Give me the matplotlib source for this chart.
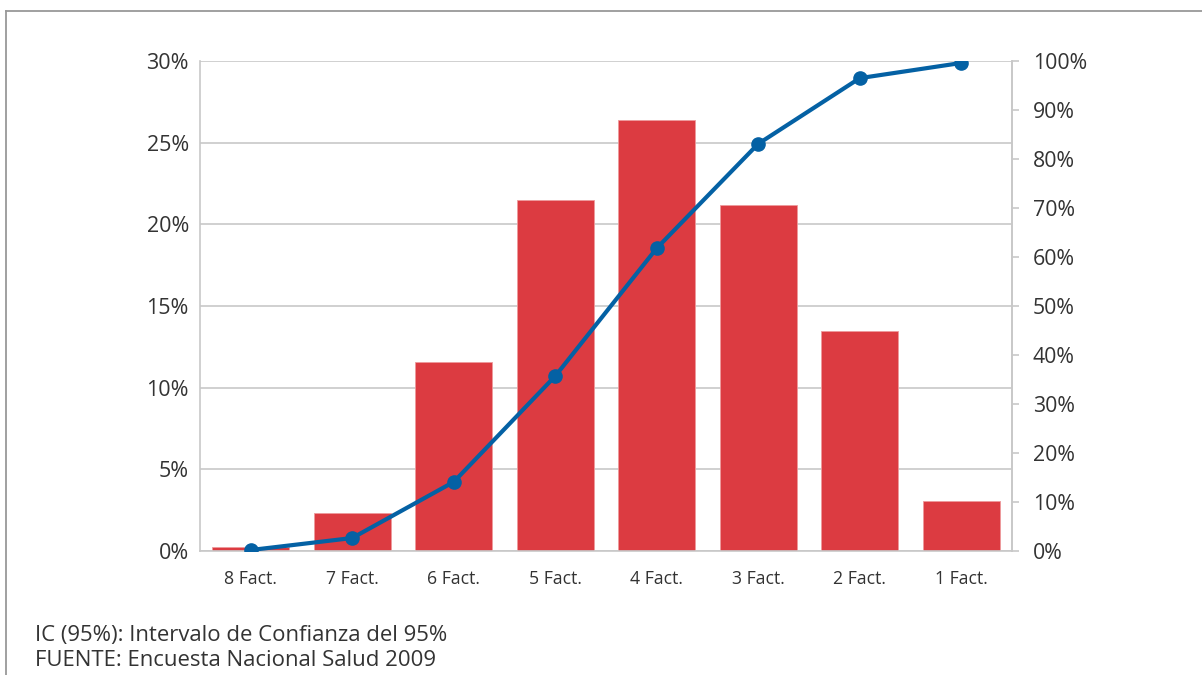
import matplotlib.pyplot as plt
from matplotlib.lines import Line2D
from matplotlib.ticker import FuncFormatter

plt.rcParams['font.family'] = ['Open Sans', 'DejaVu Sans']

categories = ['8 Fact.', '7 Fact.', '6 Fact.', '5 Fact.', '4 Fact.', '3 Fact.', '2 Fact.', '1 Fact.']
share = [0.25, 2.33, 11.57, 21.5, 26.4, 21.2, 13.47, 3.06]          # % (left axis)
cumulative = [0.2, 2.65, 14.1, 35.7, 61.8, 83.1, 96.5, 99.6]        # % (right axis)
notes = ['IC (95%): Intervalo de Confianza del 95%',
         'FUENTE: Encuesta Nacional Salud 2009']

red = '#DC3B41'
blue = '#0461A4'
grid = '#C8C8C8'
text = '#333333'

fig = plt.figure(figsize=(12.02, 6.75), dpi=100)
ax = fig.add_axes([200 / 1202, 1 - 551 / 675, 812 / 1202, 490 / 675])

x = range(len(categories))
ax.bar(x, share, width=0.76, color=red, edgecolor='#EE9A9C', linewidth=0.6, zorder=2)
ax.set_xlim(-0.5, len(categories) - 0.5)
ax.set_ylim(0, 30)
ax.set_yticks(range(0, 31, 5))
ax.yaxis.set_major_formatter(FuncFormatter(lambda v, p: f'{v:.0f}%'))
ax.grid(axis='y', color=grid, linewidth=1.2, zorder=0)
ax.set_xticks(list(x))
ax.set_xticklabels(categories, fontsize=12.7, color=text)
ax.tick_params(axis='y', length=0, pad=8, labelsize=15.5, labelcolor=text)
ax.tick_params(axis='x', length=0, pad=14)
ax.spines['top'].set_visible(False)
for s in ['left', 'bottom', 'right']:
    ax.spines[s].set_color(grid)
    ax.spines[s].set_linewidth(1.2)

ax2 = ax.twinx()
ax2.plot(x, cumulative, color=blue, linewidth=3, marker='o', markersize=9.5, zorder=3)
ax2.set_ylim(0, 100)
ax2.set_yticks(range(0, 101, 10))
ax2.yaxis.set_major_formatter(FuncFormatter(lambda v, p: f'{v:.0f}%'))
ax2.tick_params(axis='y', length=5, width=1.2, color=grid, pad=10, labelsize=15.3, labelcolor=text)
for s in ['top', 'left', 'bottom']:
    ax2.spines[s].set_visible(False)
ax2.spines['right'].set_color(grid)
ax2.spines['right'].set_linewidth(1.2)

# outer frame
fig.add_artist(Line2D([6 / 1202, 6 / 1202], [0, 1 - 11 / 675], transform=fig.transFigure, color='#999999', linewidth=1.3))
fig.add_artist(Line2D([6 / 1202, 1], [1 - 11 / 675, 1 - 11 / 675], transform=fig.transFigure, color='#999999', linewidth=1.3))

fig.text(35 / 1202, 1 - 635 / 675, notes[0], fontsize=15.9, color=text, va='center')
fig.text(35 / 1202, 1 - 660 / 675, notes[1], fontsize=15.9, color=text, va='center')

fig.savefig('out.png', dpi=100)
